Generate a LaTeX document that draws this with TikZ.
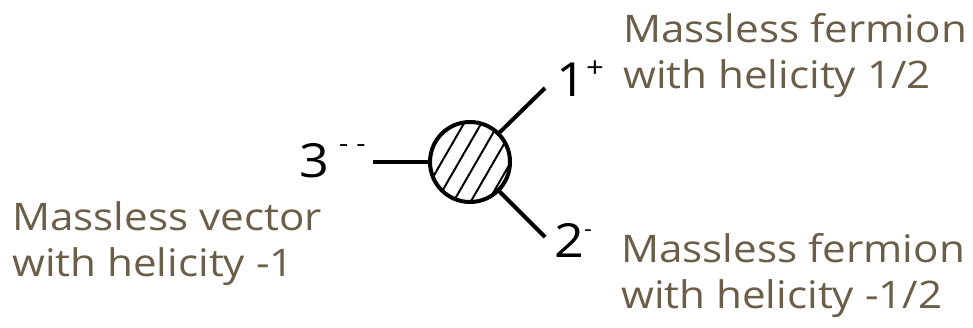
\documentclass[tikz,border=0pt]{standalone}
\usepackage{fontspec}
\setmainfont{Open Sans}
\newfontfamily\infofont[FakeStretch=1.11]{Open Sans}
\usetikzlibrary{patterns.meta}
\definecolor{helbrown}{RGB}{107,94,72}

\begin{document}
\begin{tikzpicture}[x=1pt, y=-1pt, leg/.style={line width=4pt}, blob/.style={circle, draw=black, line width=4pt, minimum size=80pt, inner sep=0pt, pattern={Lines[angle=60, distance=15pt, line width=2pt]}}, num/.style={inner sep=0pt, anchor=base west, font=\infofont\fontsize{47}{47}\selectfont}, info/.style={inner sep=0pt, anchor=north west, align=left, text=helbrown, font=\infofont\fontsize{38}{46}\selectfont}]
\useasboundingbox (0,0) rectangle (973,327);
\node[blob] (vertex) at (470,162) {};
\coordinate (end3) at (373,162);
\coordinate (end1) at (545,88);
\coordinate (end2) at (545,237);
\draw[leg] (end3) -- (vertex.west);
\draw[leg] (vertex.45) -- (end1);
\draw[leg] (vertex.-45) -- (end2);
\node[num] (p3) at (299,177) {3\hspace{10pt}\raisebox{25pt}{\fontsize{26}{26}\selectfont -\hspace{8pt}-}};
\node[num] (p1) at (556,96) {1\raisebox{19pt}{\fontsize{28}{28}\selectfont +}};
\node[num] (p2) at (554,257) {2\raisebox{21pt}{\fontsize{22}{22}\selectfont -}};
\node[info] (fermion1) at (623,13) {Massless fermion\\with helicity 1/2};
\node[info] (fermion2) at (621,233) {Massless fermion\\with helicity -1/2};
\node[info] (vector3) at (12,201) {Massless vector\\with helicity -1};
\end{tikzpicture}
\end{document}
